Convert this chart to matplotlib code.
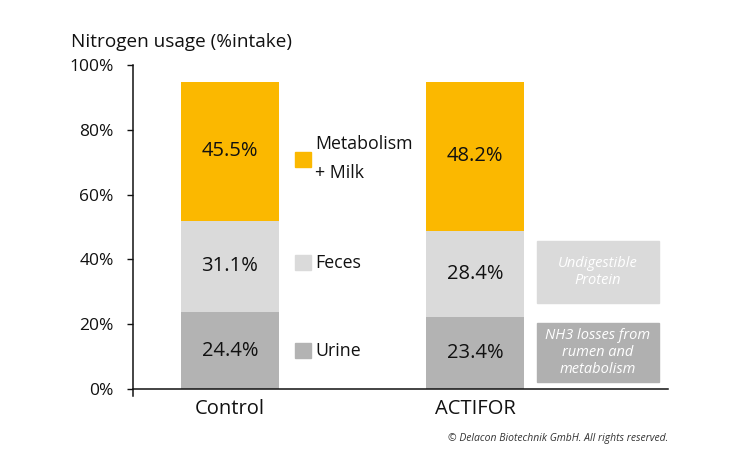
import matplotlib
matplotlib.use("Agg")
import matplotlib.pyplot as plt
from matplotlib.patches import Rectangle

plt.rcParams['font.family'] = ['Open Sans', 'DejaVu Sans']

categories = ["Control", "ACTIFOR"]
series = ["Urine", "Feces", "Metabolism\n+ Milk"]
# drawn segment heights (% of axis)
urine_h = [23.8, 22.2]
feces_h = [28.1, 26.6]
metab_h = [42.9, 46.0]
# printed labels
urine_lbl = ["24.4%", "23.4%"]
feces_lbl = ["31.1%", "28.4%"]
metab_lbl = ["45.5%", "48.2%"]
yticks = [0, 20, 40, 60, 80, 100]
ytick_labels = ["0%", "20%", "40%", "60%", "80%", "100%"]

colors = ["#B3B3B3", "#DADADA", "#FBB800"]
txt = '#111111'

fig = plt.figure(figsize=(7.5, 4.5), dpi=100)
ax = fig.add_axes([0.1773, 0.121, 0.7134, 0.7344])

x = list(range(len(categories)))
width = 0.4
bottoms = [0.0] * len(categories)
heights = [urine_h, feces_h, metab_h]
labels = [urine_lbl, feces_lbl, metab_lbl]
for h, lbl, c in zip(heights, labels, colors):
    ax.bar(x, h, width, bottom=bottoms, color=c, edgecolor='none')
    for xi, hi, bi, li in zip(x, h, bottoms, lbl):
        ax.text(xi, bi + hi / 2, li, ha='center', va='center', fontsize=14.5, color=txt)
    bottoms = [b + hh for b, hh in zip(bottoms, h)]

ax.set_xlim(-0.396, 1.788)
ax.set_ylim(-2, 100)
ax.set_yticks(yticks)
ax.set_yticklabels(ytick_labels, fontsize=12.5, color=txt)
ax.tick_params(axis='y', direction='out', length=4, width=1, pad=10, color=txt)
ax.set_xticks([])
for xi, cat in zip(x, categories):
    ax.text(xi, -6.0, cat, ha='center', va='center', fontsize=14.5, color=txt)

for s in ['top', 'right']:
    ax.spines[s].set_visible(False)
ax.spines['bottom'].set_position(('data', 0))
ax.spines['left'].set_bounds(-2, 100)
for s in ['left', 'bottom']:
    ax.spines[s].set_color(txt)
    ax.spines[s].set_linewidth(1.1)

# legend entries placed next to the Control bar
leg_y = [11.9, 39.0, 70.8]
sq_w = 0.066
sq_h = 4.8
for yy, c, name in zip(leg_y, colors, series):
    ax.add_patch(Rectangle((0.265, yy - sq_h / 2), sq_w, sq_h, color=c, clip_on=False))
    if "\n" in name:
        a, b = name.split("\n")
        ax.text(0.347, 75.6, a, ha='left', va='center', fontsize=12.8, color=txt)
        ax.text(0.347, 66.7, b, ha='left', va='center', fontsize=12.8, color=txt)
    else:
        ax.text(0.347, yy, name, ha='left', va='center', fontsize=12.8, color=txt)

# annotation boxes
ax.add_patch(Rectangle((1.253, 26.5), 0.498, 19.2, color='#DADADA', clip_on=False))
ax.text(1.502, 36.1, "Undigestible\nProtein", ha='center', va='center', fontsize=10.5,
        style='italic', color='white', linespacing=1.22)
ax.add_patch(Rectangle((1.253, 2.2), 0.498, 18.2, color='#B0B0B0', clip_on=False))
ax.text(1.502, 11.3, "NH3 losses from\nrumen and\nmetabolism", ha='center', va='center',
        fontsize=10.5, style='italic', color='white', linespacing=1.22)

fig.text(71 / 750, 1 - 42 / 450, "Nitrogen usage (%intake)", ha='left', va='center',
         fontsize=13.7, color=txt)
fig.text(668 / 750, 1 - 438 / 450, "© Delacon Biotechnik GmbH. All rights reserved.",
         ha='right', va='center', fontsize=7.5, style='italic', color='#333333')

fig.savefig("out.png", dpi=100)
